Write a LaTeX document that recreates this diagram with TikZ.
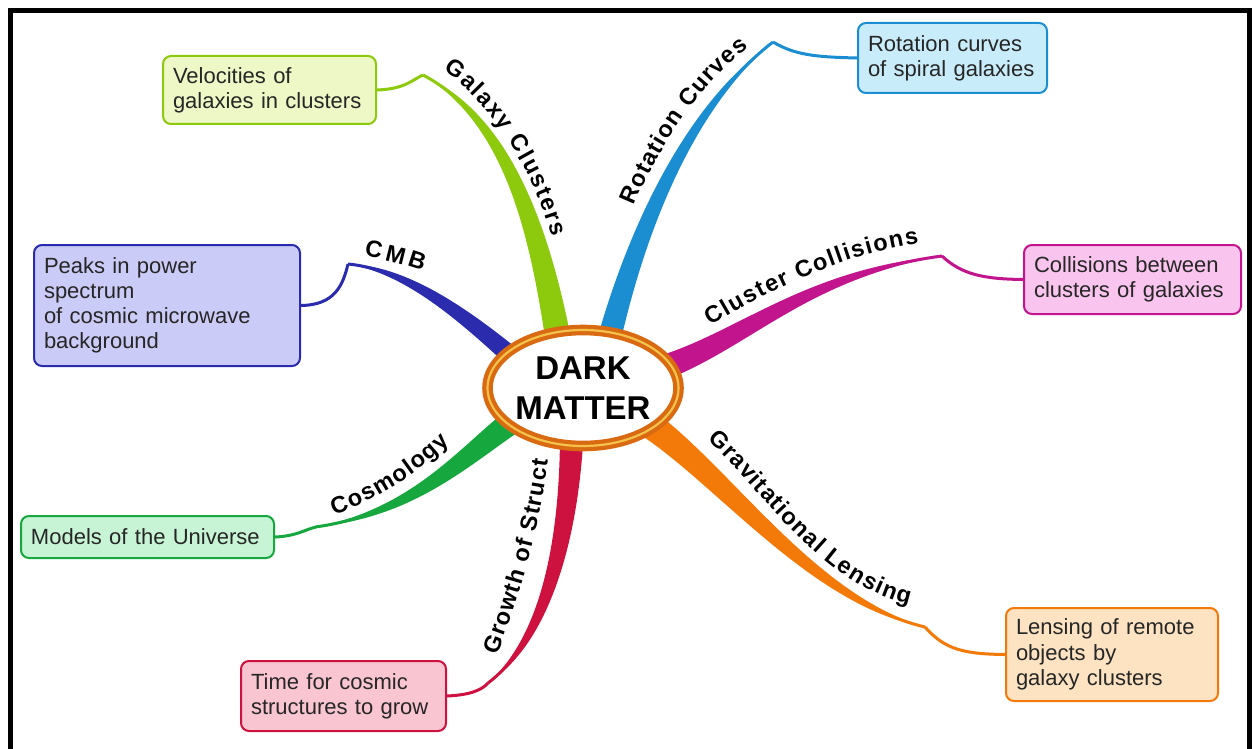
\documentclass[tikz,border=0pt]{standalone}
\usepackage{fontspec}
\setmainfont{Liberation Sans}
\usetikzlibrary{calc,backgrounds,decorations.text,shapes.geometric}

\definecolor{galcol}{HTML}{8DC90C}
\definecolor{galfill}{HTML}{EEF8C6}
\definecolor{rotcol}{HTML}{1B8ED2}
\definecolor{rotfill}{HTML}{C9ECFA}
\definecolor{colcol}{HTML}{C2148C}
\definecolor{colfill}{HTML}{F9C4EE}
\definecolor{cmbcol}{HTML}{2B2BAE}
\definecolor{cmbfill}{HTML}{CACBF6}
\definecolor{coscol}{HTML}{16A83E}
\definecolor{cosfill}{HTML}{C8F4D6}
\definecolor{grocol}{HTML}{CE1240}
\definecolor{grofill}{HTML}{F9C5D1}
\definecolor{lencol}{HTML}{F37A08}
\definecolor{lenfill}{HTML}{FDE3C2}
\definecolor{ringcol}{HTML}{D96A12}
\definecolor{ringgold}{HTML}{F3C24A}

\newcommand\boxfont{\fontsize{11}{12.6}\selectfont}
\newcommand\branchfont{\fontsize{11.75}{13}\selectfont\bfseries}

% tapered branch: colour, start, control, control, knee, half width
\newcommand\mmbranch[6]{%
\fill[#1] ($(#2)!#6!90:(#3)$) .. controls ($(#3)!0.8*#6!90:(#4)$) and ($(#4)!0.45*#6!90:(#5)$) .. (#5)
  .. controls ($(#4)!0.45*#6!-90:(#5)$) and ($(#3)!0.8*#6!-90:(#4)$) .. ($(#2)!#6!-90:(#3)$) -- cycle;
\draw[#1,line width=1.5pt] (#2) .. controls (#3) and (#4) .. (#5);}

\begin{document}
\begin{tikzpicture}[x=0.5pt,y=-0.5pt,
  box/.style={draw,rounded corners=4pt,line width=1pt,inner xsep=5pt,inner ysep=3pt,
    align=left,font=\boxfont,text=black!85,anchor=north west},
  thinline/.style={line width=1.5pt},
  label/.style={decorate,decoration={text along path,text align={fit to path},text={|\branchfont|#1}}}]
\useasboundingbox (0,0) rectangle (1252,749);

\node[ellipse,draw=ringcol,line width=2.1pt,double=ringgold,double distance=1.1pt,fill=white,
  minimum width=94pt,minimum height=58pt,inner sep=0pt,align=center,
  font=\fontsize{16.5}{20}\selectfont\bfseries] (dm) at (583,388) {DARK\\MATTER};

\coordinate (sGal) at (560,350); \coordinate (kGal) at (423,75);
\coordinate (sRot) at (606,352); \coordinate (kRot) at (773,42);
\coordinate (sCol) at (650,372); \coordinate (kCol) at (942,256);
\coordinate (sCmb) at (525,368); \coordinate (kCmb) at (348,264);
\coordinate (sCos) at (525,412); \coordinate (kCos) at (322,526);
\coordinate (sGro) at (572,425); \coordinate (kGro) at (488,683);
\coordinate (sLen) at (640,418); \coordinate (kLen) at (925,627);

\begin{pgfonlayer}{background}
\fill[white] (0,0) rectangle (1252,749);
\mmbranch{galcol}{sGal}{540,230}{508,120}{kGal}{6.5pt}
\mmbranch{rotcol}{sRot}{628,260}{678,115}{kRot}{6pt}
\mmbranch{colcol}{sCol}{740,345}{800,275}{kCol}{6.5pt}
\mmbranch{cmbcol}{sCmb}{470,320}{410,270}{kCmb}{5pt}
\mmbranch{coscol}{sCos}{470,450}{420,510}{kCos}{6.5pt}
\mmbranch{grocol}{sGro}{570,540}{545,640}{kGro}{6pt}
\mmbranch{lencol}{sLen}{720,470}{810,600}{kLen}{7pt}
\end{pgfonlayer}

\node[box,draw=galcol,fill=galfill,text width=96.5pt,minimum height=34pt] (vel) at (162,55) {Velocities of\\galaxies in clusters};
\node[box,draw=rotcol,fill=rotfill,text width=84.5pt,minimum height=35pt] (rot) at (857,22) {Rotation curves\\of spiral galaxies};
\node[box,draw=cmbcol,fill=cmbfill,text width=123pt,minimum height=60.5pt] (cmb) at (33,244) {Peaks in power\\spectrum\\of cosmic microwave\\background};
\node[box,draw=colcol,fill=colfill,text width=98.5pt,minimum height=34.5pt] (col) at (1023,244) {Collisions between\\clusters of galaxies};
\node[box,draw=coscol,fill=cosfill,text width=116.5pt,minimum height=21pt] (mod) at (20,515) {Models of the Universe};
\node[box,draw=grocol,fill=grofill,text width=92.5pt,minimum height=35pt] (time) at (240,660) {Time for cosmic\\structures to grow};
\node[box,draw=lencol,fill=lenfill,text width=96pt,minimum height=46.5pt] (lens) at (1005,607) {Lensing of remote\\objects by\\galaxy clusters};

\draw[thinline,galcol] (vel.east) .. controls (405,89) and (412,80) .. (kGal);
\draw[thinline,rotcol] (kRot) .. controls (795,55) and (815,57) .. (rot.west);
\draw[thinline,cmbcol] (cmb.east) .. controls (335,305) and (343,285) .. (kCmb);
\draw[thinline,colcol] (kCol) .. controls (962,275) and (985,279) .. (col.west);
\draw[thinline,coscol] (mod.east) .. controls (300,536) and (308,527) .. (kCos);
\draw[thinline,grocol] (time.east) .. controls (470,695) and (482,690) .. (kGro);
\draw[thinline,lencol] (kLen) .. controls (945,650) and (965,654) .. (lens.west);

\path[label=Galaxy Clusters] (443,70) .. controls (491,102) and (533,170) .. (552,237);
\path[label=Rotation Curves] (634,206) .. controls (657,150) and (700,83) .. (749,48);
\path[label=Cluster Collisions] (711,326) .. controls (780,284) and (850,253) .. (919,243);
\path[label=CMB] (364,256) .. controls (385,260) and (403,264) .. (423,271);
\path[label=Cosmology] (334,515) .. controls (373,501) and (415,477) .. (450,442);
\path[label=Growth of Struct] (497,655) .. controls (519,600) and (539,530) .. (548,460);
\path[label=Gravitational Lensing] (707,440) .. controls (771,499) and (821,584) .. (909,604);

\draw[line width=2.5pt] (10,749) -- (10,10.5) -- (1249,10.5) -- (1249,749);
\end{tikzpicture}
\end{document}
